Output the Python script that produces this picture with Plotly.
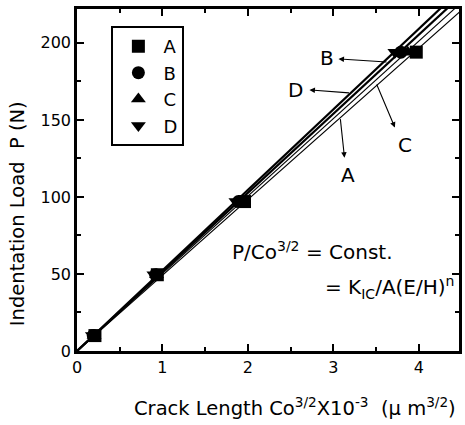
import plotly.graph_objects as go

# Indentation loads (N) and the matching crack-length parameter Co^(3/2) x 10^-3 (um^(3/2))
series_names = ["A", "B", "C", "D"]
loads = [10, 49.5, 97, 194]
crack_A = [0.21, 0.94, 1.96, 3.97]
crack_B = [0.19, 0.92, 1.89, 3.79]
crack_C = [0.20, 0.93, 1.93, 3.87]
crack_D = [0.18, 0.90, 1.86, 3.72]
symbols = ["square", "circle", "triangle-up", "triangle-down"]
line_widths = [1.1, 2.2, 1.1, 2.2]

crack_sets = [crack_A, crack_B, crack_C, crack_D]

X_MAX = 4.47
Y_MAX = 222
FONT = "DejaVu Sans"

fig = go.Figure()

# Straight fits through the origin: P = k * Co^(3/2)
for name, xs, lw in zip(series_names, crack_sets, line_widths):
    k = sum(x * y for x, y in zip(xs, loads)) / sum(x * x for x in xs)
    x_end = 4.6
    fig.add_trace(go.Scatter(
        x=[0, x_end], y=[0, k * x_end], mode="lines",
        line=dict(color="black", width=lw), showlegend=False, hoverinfo="skip"))

# Measured points
for name, xs, sym in zip(series_names, crack_sets, symbols):
    fig.add_trace(go.Scatter(
        x=xs, y=loads, mode="markers", name=name,
        marker=dict(symbol=sym, size=13, color="black", line=dict(width=0))))

axis_common = dict(
    showline=True, linecolor="black", linewidth=2.5, mirror="allticks",
    ticks="inside", ticklen=7, tickwidth=2, tickcolor="black",
    showgrid=False, zeroline=False,
    tickfont=dict(family=FONT, size=16, color="black"),
)

fig.update_xaxes(range=[0, X_MAX], tickvals=[0, 1, 2, 3, 4],
                 minor=dict(dtick=0.5, tick0=0, ticks="inside", ticklen=4,
                            tickwidth=1.5, tickcolor="black", showgrid=False),
                 **axis_common)
fig.update_yaxes(range=[0, Y_MAX], tickvals=[0, 50, 100, 150, 200],
                 minor=dict(dtick=25, tick0=0, ticks="inside", ticklen=4,
                            tickwidth=1.5, tickcolor="black", showgrid=False),
                 **axis_common)

text_font = dict(family=FONT, size=20, color="black")
title_font = dict(family=FONT, size=19.5, color="black")

annotations = [
    # axis titles
    dict(text="Crack Length Co<sup>3/2</sup>X10<sup>-3</sup>  (\u03bc m<sup>3/2</sup>)",
         xref="paper", yref="paper", x=0.57, y=-0.165, xanchor="center",
         yanchor="middle", showarrow=False, font=title_font),
    dict(text="Indentation Load  P (N)", textangle=-90,
         xref="paper", yref="paper", x=0, xshift=-60, y=0.40,
         xanchor="center", yanchor="middle", showarrow=False, font=title_font),
    # relation
    dict(text="P/Co<sup>3/2</sup> = Const.", xref="x", yref="y",
         x=1.79, y=65, xanchor="left", yanchor="middle", showarrow=False,
         font=text_font),
    dict(text="= K<sub>IC</sub>/A(E/H)<sup>n</sup>", xref="x", yref="y",
         x=2.88, y=41, xanchor="left", yanchor="middle", showarrow=False,
         font=text_font),
]

# Curve labels with leader arrows
label_specs = [
    # name, label (x, y), arrow head (x, y), arrow tail (x, y)
    ("B", (2.92, 190), (3.06, 189.6), (3.64, 187.5)),
    ("D", (2.56, 169.5), (2.72, 169.5), (3.20, 167.5)),
    ("C", (3.84, 134), (3.72, 145), (3.50, 174)),
    ("A", (3.17, 114), (3.13, 125.5), (3.08, 151.5)),
]
for name, (lx, ly), (hx, hy), (tx, ty) in label_specs:
    annotations.append(dict(text=name, x=lx, y=ly, xref="x", yref="y",
                            showarrow=False, font=text_font))
    annotations.append(dict(text="", x=hx, y=hy, ax=tx, ay=ty,
                            xref="x", yref="y", axref="x", ayref="y",
                            showarrow=True, arrowhead=2, arrowsize=1,
                            arrowwidth=1.1, arrowcolor="black"))

fig.update_layout(
    width=465, height=425,
    margin=dict(l=77, r=3, t=9, b=74),
    paper_bgcolor="white", plot_bgcolor="white",
    annotations=annotations,
    legend=dict(x=0.09, y=0.95, xanchor="left", yanchor="top",
                bgcolor="white", bordercolor="black", borderwidth=2,
                font=dict(family=FONT, size=18, color="black"),
                itemwidth=40, tracegroupgap=0),
)

fig.write_html("out.html")
